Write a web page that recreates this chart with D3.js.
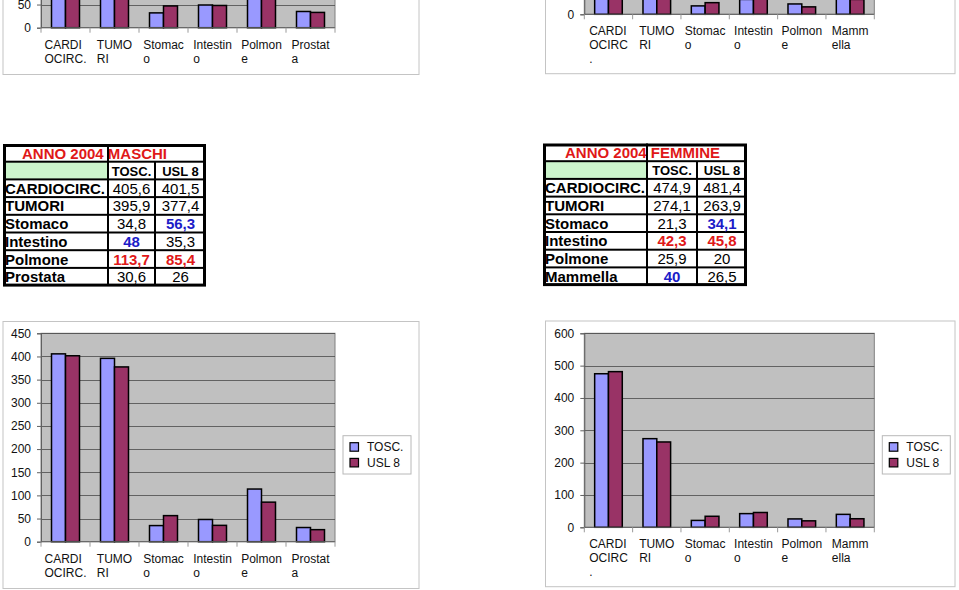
<!DOCTYPE html>
<html><head><meta charset="utf-8">
<script src="https://cdn.jsdelivr.net/npm/d3@7"></script>
<style>
html,body{margin:0;padding:0;background:#fff;}
svg{display:block;font-family:"Liberation Sans",Arial,sans-serif;}
</style></head>
<body>
<svg id="c" width="959" height="590"></svg>
<script>
// ---------- DATA ----------
const seriesNames = ["TOSC.", "USL 8"];
const catsM = ["CARDIOCIRC.", "TUMORI", "Stomaco", "Intestino", "Polmone", "Prostata"];
const catsF = ["CARDIOCIRC.", "TUMORI", "Stomaco", "Intestino", "Polmone", "Mammella"];
const tickLabelsM = [["CARDI","OCIRC."],["TUMO","RI"],["Stomac","o"],["Intestin","o"],["Polmon","e"],["Prostat","a"]];
const tickLabelsF = [["CARDI","OCIRC","."],["TUMO","RI"],["Stomac","o"],["Intestin","o"],["Polmon","e"],["Mamm","ella"]];
// 2004 values (tables + lower charts)
const toscM = [405.6, 395.9, 34.8, 48, 113.7, 30.6];
const uslM  = [401.5, 377.4, 56.3, 35.3, 85.4, 26];
const toscF = [474.9, 274.1, 21.3, 42.3, 25.9, 40];
const uslF  = [481.4, 263.9, 34.1, 45.8, 20, 26.5];
// table text as printed
const toscMText = ["405,6","395,9","34,8","48","113,7","30,6"];
const uslMText  = ["401,5","377,4","56,3","35,3","85,4","26"];
const toscFText = ["474,9","274,1","21,3","42,3","25,9","40"];
const uslFText  = ["481,4","263,9","34,1","45,8","20","26,5"];
// emphasis marks in the tables (b = blue, r = red)
const markMTosc = ["","","","b","r",""];
const markMUsl  = ["","","b","","r",""];
const markFTosc = ["","","","r","","b"];
const markFUsl  = ["","","b","r","",""];
// previous charts (cut off at top of page), estimated
const prevToscM = [420, 400, 32, 49, 115, 35];
const prevUslM  = [410, 390, 47, 48, 95, 33];
const prevToscF = [480, 280, 26, 46, 32, 48];
const prevUslF  = [490, 270, 36, 50, 23, 46];
const ticksM = [0,50,100,150,200,250,300,350,400,450];
const ticksF = [0,100,200,300,400,500,600];
const titleM = "ANNO 2004 MASCHI";
const titleF = "ANNO 2004 FEMMINE";

// ---------- DRAW ----------
const svg = d3.select("#c");
const FILL = {"TOSC.":"#9999ff","USL 8":"#993366"};
const COL = {b:"#1c1cc8", r:"#e01818"};

function chart(o){
  const g = svg.append("g");
  g.append("rect").attr("x",o.fx).attr("y",o.fy).attr("width",o.fw).attr("height",o.fh)
    .attr("fill","#fff").attr("stroke","#c4c4c4").attr("stroke-width",1);
  const x = d3.scaleBand().domain(o.cats).range([o.px, o.px+o.pw]);
  const y = d3.scaleLinear().domain([0, o.ticks[o.ticks.length-1]]).range([o.py+o.ph, o.py]);
  g.append("rect").attr("x",o.px).attr("y",o.py).attr("width",o.pw).attr("height",o.ph)
    .attr("fill","#c0c0c0").attr("stroke","#808080").attr("stroke-width",1);
  g.selectAll("line.grid").data(o.ticks.slice(1)).join("line")
    .attr("x1",o.px).attr("x2",o.px+o.pw).attr("y1",d=>Math.round(y(d))+0.5).attr("y2",d=>Math.round(y(d))+0.5)
    .attr("stroke","#4a4a4a").attr("stroke-width",0.8);
  const bw = x.bandwidth()/3.5;
  const sub = d3.scaleBand().domain(seriesNames).range([0, 2*bw]);
  const off = (x.bandwidth()-2*bw)/2;
  const data = [];
  o.cats.forEach((c,i)=>{ data.push({c, s:seriesNames[0], v:o.a[i]}); data.push({c, s:seriesNames[1], v:o.b[i]}); });
  g.selectAll("rect.bar").data(data).join("rect")
    .attr("x",d=>x(d.c)+off+sub(d.s)).attr("width",sub.bandwidth())
    .attr("y",d=>y(d.v)).attr("height",d=>y(0)-y(d.v))
    .attr("fill",d=>FILL[d.s]).attr("stroke","#000").attr("stroke-width",1.5);
  // y axis (only labels that land on the page)
  const visTicks = o.ticks.filter(t => y(t) > -6);
  const ya = d3.axisLeft(y).tickValues(visTicks).tickSize(4).tickFormat(d3.format("d"));
  const yg = g.append("g").attr("transform",`translate(${o.px},0)`).call(ya);
  yg.select(".domain").attr("stroke","#606060");
  yg.selectAll(".tick line").attr("stroke","#606060");
  yg.selectAll("text").attr("font-size",12).attr("fill","#111").attr("x",-10)
    .attr("font-family",'"Liberation Sans",Arial,sans-serif');
  // x axis
  const base = y(0);
  g.append("line").attr("x1",o.px).attr("x2",o.px+o.pw).attr("y1",base).attr("y2",base).attr("stroke","#606060");
  const edges = o.cats.map(c=>x(c)).concat([o.px+o.pw]);
  g.selectAll("line.xt").data(edges).join("line")
    .attr("x1",d=>d).attr("x2",d=>d).attr("y1",base).attr("y2",base+5).attr("stroke","#9a9a9a");
  o.cats.forEach((c,i)=>{
    const t = g.append("text").attr("font-size",12).attr("fill","#111");
    const lines = o.labels[i];
    lines.forEach((ln,j)=>t.append("tspan").attr("y",base+21+j*14).text(ln));
    let w = 0; t.selectAll("tspan").each(function(){ w = Math.max(w, this.getComputedTextLength()); });
    const sx = x(c)+x.bandwidth()/2 - w/2;
    t.selectAll("tspan").attr("x",sx);
  });
  // legend (only when on the page)
  if (o.py+102.4 > 0) {
    const lg = g.append("g");
    lg.append("rect").attr("x",o.px+o.pw+8).attr("y",o.py+102.4).attr("width",68).attr("height",38.3)
      .attr("fill","#fff").attr("stroke","#b8b8b8");
    seriesNames.forEach((s,i)=>{
      const ly = o.py+102.4+7+i*15.7;
      lg.append("rect").attr("x",o.px+o.pw+15).attr("y",ly).attr("width",8.5).attr("height",8.5)
        .attr("fill",FILL[s]).attr("stroke","#000").attr("stroke-width",1.2);
      lg.append("text").attr("x",o.px+o.pw+32).attr("y",ly+8.5).attr("font-size",12).attr("fill","#111").text(s);
    });
  }
}

function table(o){
  const g = svg.append("g");
  const rows = o.cats.length + 2;
  const H = o.rh*rows;
  const W = o.c[3]-o.c[0];
  g.append("rect").attr("x",o.c[0]).attr("y",o.y).attr("width",W).attr("height",H+1).attr("fill","#000");
  const yr = i => o.y + i*o.rh;
  const cell = (x0,x1,r,fill) => g.append("rect").attr("x",x0+(x0===o.c[0]?3:1)).attr("y",yr(r)+(r===0?3:1))
     .attr("width",(x1-x0)-(x0===o.c[0]?3:1)-(x1===o.c[3]?3:1)).attr("height",o.rh-(r===0?3:1)-1-(r===rows-1?1:0)).attr("fill",fill);
  // title row: two cells
  cell(o.c[0],o.c[1],0,"#fff"); cell(o.c[1],o.c[3],0,"#fff");
  g.append("text").attr("x",o.tx).attr("y",yr(0)+o.rh/2+6).attr("font-size",15).attr("font-weight","bold")
    .attr("fill","#e01818").text(o.title);
  g.append("rect").attr("x",o.c[1]-1).attr("y",yr(0)).attr("width",2).attr("height",o.rh).attr("fill","#000");
  // header
  cell(o.c[0],o.c[1],1,"#ccf5cc"); cell(o.c[1],o.c[2],1,"#fff"); cell(o.c[2],o.c[3],1,"#fff");
  seriesNames.forEach((s,k)=>{
    g.append("text").attr("x",(o.c[1+k]+o.c[2+k])/2).attr("y",yr(1)+o.rh/2+5).attr("text-anchor","middle")
      .attr("font-size",13).attr("font-weight","bold").attr("fill","#000").text(s);
  });
  o.cats.forEach((c,i)=>{
    const r = i+2;
    cell(o.c[0],o.c[1],r,"#fff"); cell(o.c[1],o.c[2],r,"#fff"); cell(o.c[2],o.c[3],r,"#fff");
    g.append("text").attr("x",o.c[0]+2).attr("y",yr(r)+o.rh/2+5.5).attr("font-size",15).attr("font-weight","bold")
      .attr("fill","#000").text(c);
    [[o.ta,o.ma],[o.tb,o.mb]].forEach(([txt,mk],k)=>{
      const m = mk[i];
      g.append("text").attr("x",(o.c[1+k]+o.c[2+k])/2).attr("y",yr(r)+o.rh/2+5.5).attr("text-anchor","middle")
        .attr("font-size",15).attr("font-weight",m?"bold":"normal").attr("fill",m?COL[m]:"#000").text(txt[i]);
    });
  });
}

// previous charts (cut off)
chart({fx:3,fy:-192.5,fw:416,fh:267,px:41,py:-180.7,pw:294,ph:208.4,cats:catsM,a:prevToscM,b:prevUslM,ticks:ticksM,labels:tickLabelsM});
chart({fx:545.5,fy:-192,fw:409.5,fh:265.7,px:584.3,py:-179.7,pw:290,ph:194,cats:catsF,a:prevToscF,b:prevUslF,ticks:ticksF,labels:tickLabelsF});
// tables
table({c:[3,108,155,206],y:144,rh:17.7,tx:22,title:titleM,cats:catsM,ta:toscMText,tb:uslMText,ma:markMTosc,mb:markMUsl});
table({c:[543,647,697,747],y:143.5,rh:17.7,tx:565,title:titleF,cats:catsF,ta:toscFText,tb:uslFText,ma:markFTosc,mb:markFUsl});
// 2004 charts
chart({fx:3,fy:321.5,fw:416,fh:267,px:41,py:333.3,pw:294,ph:208.4,cats:catsM,a:toscM,b:uslM,ticks:ticksM,labels:tickLabelsM});
chart({fx:545.5,fy:321,fw:409.5,fh:265.7,px:584.3,py:333.3,pw:290,ph:194,cats:catsF,a:toscF,b:uslF,ticks:ticksF,labels:tickLabelsF});
</script>
</body></html>
